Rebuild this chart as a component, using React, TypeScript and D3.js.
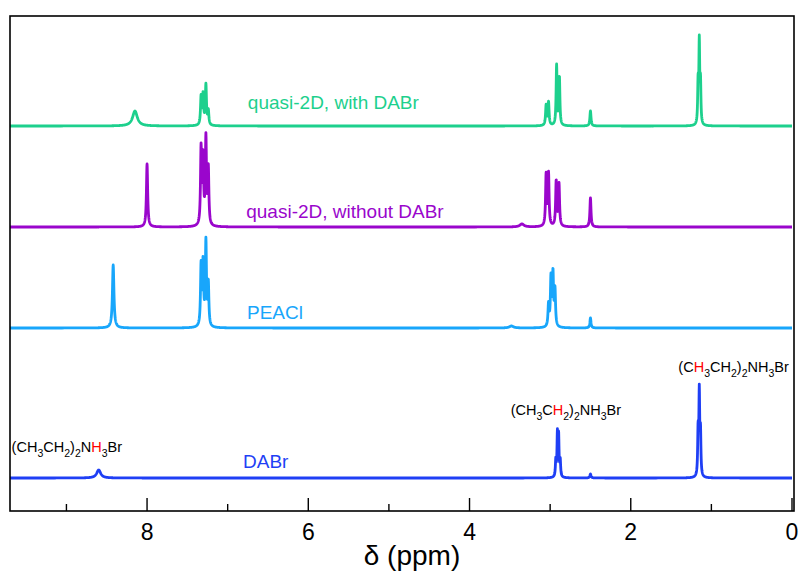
import React from "react";
import * as d3 from "d3";

// Peak lists: [ppm, height, half-width(ppm)]
const greenPeaks: [number, number, number][] = [
  [8.15, 15, 0.035], [7.33, 28, 0.008], [7.305, 30, 0.008], [7.27, 40, 0.008], [7.24, 14, 0.008],
  [3.05, 20, 0.008], [3.02, 23, 0.008], [2.92, 60, 0.007], [2.885, 48, 0.007], [2.5, 15, 0.008],
  [1.165, 40, 0.006], [1.15, 80, 0.006], [1.135, 40, 0.006],
];
const purplePeaks: [number, number, number][] = [
  [8.0, 63, 0.009], [7.33, 76, 0.008], [7.305, 66, 0.008], [7.27, 86, 0.008], [7.24, 56, 0.008],
  [3.35, 3, 0.03], [3.05, 51, 0.008], [3.02, 52, 0.008], [2.925, 45, 0.008], [2.89, 42, 0.008],
  [2.5, 29, 0.008],
];
const cyanPeaks: [number, number, number][] = [
  [8.42, 63, 0.011], [7.33, 60, 0.008], [7.305, 62, 0.008], [7.27, 84, 0.008], [7.24, 42, 0.008],
  [3.48, 2, 0.03], [3.02, 22, 0.008], [2.99, 48, 0.008], [2.965, 52, 0.008], [2.94, 36, 0.008],
  [2.5, 10, 0.008],
];
const bluePeaks: [number, number, number][] = [
  [8.6, 8, 0.03], [2.93, 16, 0.006], [2.91, 42, 0.006], [2.895, 40, 0.006], [2.875, 16, 0.006],
  [2.5, 4, 0.008], [1.165, 44, 0.006], [1.15, 82, 0.006], [1.135, 42, 0.006],
];

const seriesNames = ["quasi-2D, with DABr", "quasi-2D, without DABr", "PEACl", "DABr"];
const seriesColors = ["#1dd08d", "#9a06cc", "#18a6fb", "#1f3ff5"];
const seriesOffsets = [385, 284, 183, 33];
const seriesPeaks = [greenPeaks, purplePeaks, cyanPeaks, bluePeaks];
const labelPos: [number, number][] = [[6.75, 109], [6.77, 218], [6.76, 319], [6.81, 468]];

const majorTicks = [8, 6, 4, 2, 0];
const minorTicks = [9, 7, 5, 3, 1];

type Seg = { t: string; sub?: boolean; red?: boolean };
const annotations: { ppm: number; y: number; anchor: string; segs: Seg[] }[] = [
  { ppm: 9.68, y: 452, anchor: "start", segs: [
    { t: "(CH" }, { t: "3", sub: true }, { t: "CH" }, { t: "2", sub: true }, { t: ")" }, { t: "2", sub: true },
    { t: "N" }, { t: "H", red: true }, { t: "3", sub: true }, { t: "Br" } ] },
  { ppm: 3.49, y: 415, anchor: "start", segs: [
    { t: "(CH" }, { t: "3", sub: true }, { t: "C" }, { t: "H", red: true }, { t: "2", sub: true }, { t: ")" }, { t: "2", sub: true },
    { t: "NH" }, { t: "3", sub: true }, { t: "Br" } ] },
  { ppm: 0.04, y: 372, anchor: "end", segs: [
    { t: "(C" }, { t: "H", red: true }, { t: "3", sub: true }, { t: "CH" }, { t: "2", sub: true }, { t: ")" }, { t: "2", sub: true },
    { t: "NH" }, { t: "3", sub: true }, { t: "Br" } ] },
];

const W = 801, H = 573;
const L = 10, R = 794, T = 16, B = 511;

function spectrum(peaks: [number, number, number][]) {
  const pts: [number, number][] = [];
  for (let i = 0; i <= 4850; i++) {
    const x = 9.7 - i * 0.002;
    let y = 0;
    for (const [c, h, w] of peaks) y += h * (w * w) / ((x - c) * (x - c) + w * w);
    pts.push([x, y]);
  }
  return pts;
}

export default function App() {
  const x = d3.scaleLinear().domain([9.7, 0]).range([L, 792]);
  const y = d3.scaleLinear().domain([0, B - T]).range([B, T]);
  const font = "'Liberation Sans', Arial, sans-serif";
  return (
    <svg width={W} height={H} style={{ position: "absolute", left: 0, top: 0, background: "#fff" }}>
      <rect x={0} y={0} width={W} height={H} fill="#fff" />
      {seriesPeaks.map((p, i) => {
        const line = d3.line<[number, number]>()
          .x(d => x(d[0]))
          .y(d => y(d[1] + seriesOffsets[i]));
        return (
          <path key={i} d={line(spectrum(p)) || ""} fill="none" stroke={seriesColors[i]}
            strokeWidth={2.8} strokeLinejoin="round" />
        );
      })}
      {seriesNames.map((n, i) => (
        <text key={n} x={x(labelPos[i][0])} y={labelPos[i][1]} fill={seriesColors[i]}
          fontSize={19} fontFamily={font}>{n}</text>
      ))}
      {annotations.map((a, i) => (
        <text key={i} x={x(a.ppm)} y={a.y} fontSize={14.5} fontFamily={font} fill="#000" textAnchor={a.anchor}>
          {a.segs.map((s, j) => {
            const prevSub = j > 0 && a.segs[j - 1].sub;
            const dy = s.sub ? (prevSub ? 0 : 4.5) : (prevSub ? -4.5 : 0);
            return (
              <tspan key={j} dy={dy} fontSize={s.sub ? 10.5 : 14.5} fill={s.red ? "#ff0000" : "#000"}>{s.t}</tspan>
            );
          })}
        </text>
      ))}
      <rect x={L} y={T} width={R - L} height={B - T} fill="none" stroke="#000" strokeWidth={1.6} />
      {majorTicks.map(t => (
        <g key={t}>
          <line x1={x(t)} x2={x(t)} y1={B} y2={B - 13} stroke="#000" strokeWidth={1.4} />
          <text x={x(t)} y={540} textAnchor="middle" fontSize={23} fontFamily={font}>{t}</text>
        </g>
      ))}
      {minorTicks.map(t => (
        <line key={t} x1={x(t)} x2={x(t)} y1={B} y2={B - 7} stroke="#000" strokeWidth={1.4} />
      ))}
      <text x={412} y={565} textAnchor="middle" fontSize={28} fontFamily={font}>δ (ppm)</text>
    </svg>
  );
}
